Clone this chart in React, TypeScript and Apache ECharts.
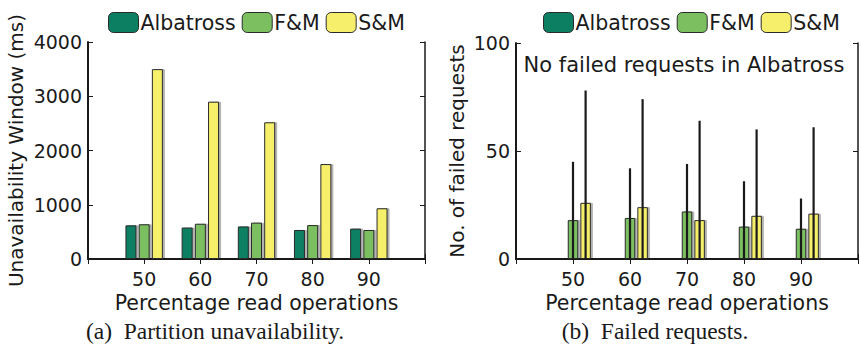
import React, { useEffect, useRef } from "react";
import * as echarts from "echarts";

const categories = ["50", "60", "70", "80", "90"];
const axisCategories = ["40", ...categories, "100"];
const seriesNames = ["Albatross", "F&M", "S&M"];

// (a) Partition unavailability window (ms)
const unavailAlbatross = [620, 580, 600, 535, 560];
const unavailFM = [640, 650, 670, 625, 535];
const unavailSM = [3500, 2900, 2520, 1750, 935];

// (b) Failed requests (means) and upper ends of error bars
const failedAlbatross = [0, 0, 0, 0, 0];
const failedFM = [18, 19, 22, 15, 14];
const failedSM = [26, 24, 18, 20, 21];
const failedFMUpper = [45, 42, 44, 36, 28];
const failedSMUpper = [78, 74, 64, 60, 61];

const COLORS = ["#0c7f62", "#7bbf61", "#f6ef6b"];
const FONT = "DejaVu Sans";
const TXT = "#1a1a1a";

const pad = (arr: number[]) => [null, ...arr, null];

export default function App() {
  const ref = useRef<HTMLDivElement>(null);
  useEffect(() => {
    document.body.style.margin = "0";
    const chart = echarts.init(ref.current!, undefined, { renderer: "svg" });
    const barWL = 11;
    const barWR = 10.5;
    const gapRatio = 0.2;

    const xAxisBase = (gridIndex: number) => ({
      type: "category" as const,
      gridIndex,
      data: axisCategories,
      boundaryGap: false,
      axisLine: { lineStyle: { color: TXT, width: 2 } },
      axisTick: { inside: true, length: 5, lineStyle: { color: TXT, width: 1 } },
      axisLabel: {
        fontFamily: FONT,
        fontSize: 19,
        color: TXT,
        margin: 10,
        formatter: (v: string) => (categories.includes(v) ? v : ""),
      },
      name: "Percentage read operations",
      nameLocation: "middle" as const,
      nameGap: 28,
      nameTextStyle: { fontFamily: FONT, fontSize: 20.5, color: TXT },
    });
    const xAxisTop = (gridIndex: number) => ({
      type: "category" as const,
      gridIndex,
      position: "top" as const,
      data: axisCategories,
      boundaryGap: false,
      axisLine: { lineStyle: { color: TXT, width: 1.5 } },
      axisTick: { inside: true, length: 5, lineStyle: { color: TXT, width: 1 } },
      axisLabel: { show: false },
    });

    const yAxisLeft = (gridIndex: number, max: number, interval: number, name: string, nameGap: number) => ({
      type: "value" as const,
      gridIndex,
      min: 0,
      max,
      interval,
      splitLine: { show: false },
      axisLine: { show: true, lineStyle: { color: TXT, width: 2 } },
      axisTick: { show: true, inside: true, length: 5, lineStyle: { color: TXT } },
      axisLabel: { fontFamily: FONT, fontSize: 19, color: TXT, margin: 6, formatter: (v: number) => String(v) },
      name,
      nameLocation: "middle" as const,
      nameGap,
      nameTextStyle: { fontFamily: FONT, fontSize: 20, color: TXT },
    });
    const yAxisRight = (gridIndex: number, max: number, interval: number) => ({
      type: "value" as const,
      gridIndex,
      position: "right" as const,
      min: 0,
      max,
      interval,
      splitLine: { show: false },
      axisLine: { show: true, lineStyle: { color: TXT, width: 1.5 } },
      axisTick: { show: true, inside: true, length: 5, lineStyle: { color: TXT } },
      axisLabel: { show: false },
    });

    const barItem = (c: string) => ({
      color: c,
      borderColor: "#2a2a2a",
      borderWidth: 1,
      shadowColor: "rgba(0,0,0,0.3)",
      shadowOffsetX: 2,
      shadowBlur: 0,
    });

    const leftVals = [unavailAlbatross, unavailFM, unavailSM];
    const rightVals = [failedAlbatross, failedFM, failedSM];

    const errData = (upper: number[]) => categories.map((c, i) => [c, upper[i]]);
    const errSeries = (upper: number[], offsetSlots: number) => ({
      type: "custom" as const,
      xAxisIndex: 2,
      yAxisIndex: 2,
      z: 10,
      data: errData(upper),
      renderItem: (params: any, api: any) => {
        const top = api.coord([api.value(0), api.value(1)]);
        const bottom = api.coord([api.value(0), 0]);
        const dx = offsetSlots * barWR * (1 + gapRatio);
        return {
          type: "line",
          shape: { x1: top[0] + dx, y1: top[1], x2: bottom[0] + dx, y2: bottom[1] },
          style: { stroke: "#1a1a1a", lineWidth: 2.2 },
        };
      },
    });

    const legendBase = (left: number) => ({
      left,
      top: 7,
      itemWidth: 30,
      itemHeight: 20,
      itemGap: 6,
      data: seriesNames,
      textStyle: { fontFamily: FONT, fontSize: 20.5, color: TXT, padding: [0, 0, 0, -3] },
      itemStyle: { borderColor: "#2a2a2a", borderWidth: 1 },
    });

    chart.setOption({
      animation: false,
      grid: [
        { left: 88, top: 42, width: 337, height: 217 },
        { left: 516, top: 43, width: 350, height: 216 },
      ],
      legend: [legendBase(103), legendBase(538)],
      xAxis: [xAxisBase(0), xAxisTop(0), xAxisBase(1), xAxisTop(1)],
      yAxis: [
        yAxisLeft(0, 4000, 1000, "Unavailability Window (ms)", 62),
        yAxisRight(0, 4000, 1000),
        yAxisLeft(1, 100, 50, "No. of failed requests", 49),
        yAxisRight(1, 100, 50),
      ],
      series: [
        ...seriesNames.map((n, i) => ({
          type: "bar" as const,
          name: n,
          xAxisIndex: 0,
          yAxisIndex: 0,
          barWidth: barWL,
          barGap: gapRatio * 100 + "%",
          data: pad(leftVals[i]),
          itemStyle: barItem(COLORS[i]),
        })),
        ...seriesNames.map((n, i) => ({
          type: "bar" as const,
          name: n,
          xAxisIndex: 2,
          yAxisIndex: 2,
          barWidth: barWR,
          barGap: gapRatio * 100 + "%",
          data: pad(rightVals[i]),
          itemStyle: i === 0 ? { ...barItem(COLORS[i]), borderWidth: 0, shadowOffsetX: 0 } : barItem(COLORS[i]),
        })),
        errSeries(failedFMUpper, 0),
        errSeries(failedSMUpper, 1),
      ],
      graphic: [
        {
          type: "text",
          x: 684,
          y: 65,
          style: {
            text: "No failed requests in Albatross",
            fontFamily: FONT,
            fontSize: 21,
            fill: TXT,
            align: "center",
            verticalAlign: "middle",
          },
        },
        {
          type: "text",
          x: 215,
          y: 331,
          style: {
            text: "(a)  Partition unavailability.",
            fontFamily: "Liberation Serif",
            fontSize: 23.5,
            fill: TXT,
            align: "center",
            verticalAlign: "middle",
          },
        },
        {
          type: "text",
          x: 655,
          y: 331,
          style: {
            text: "(b)  Failed requests.",
            fontFamily: "Liberation Serif",
            fontSize: 23.5,
            fill: TXT,
            align: "center",
            verticalAlign: "middle",
          },
        },
      ],
    });
    return () => chart.dispose();
  }, []);
  return <div ref={ref} style={{ width: 861, height: 349, background: "#fff" }} />;
}
